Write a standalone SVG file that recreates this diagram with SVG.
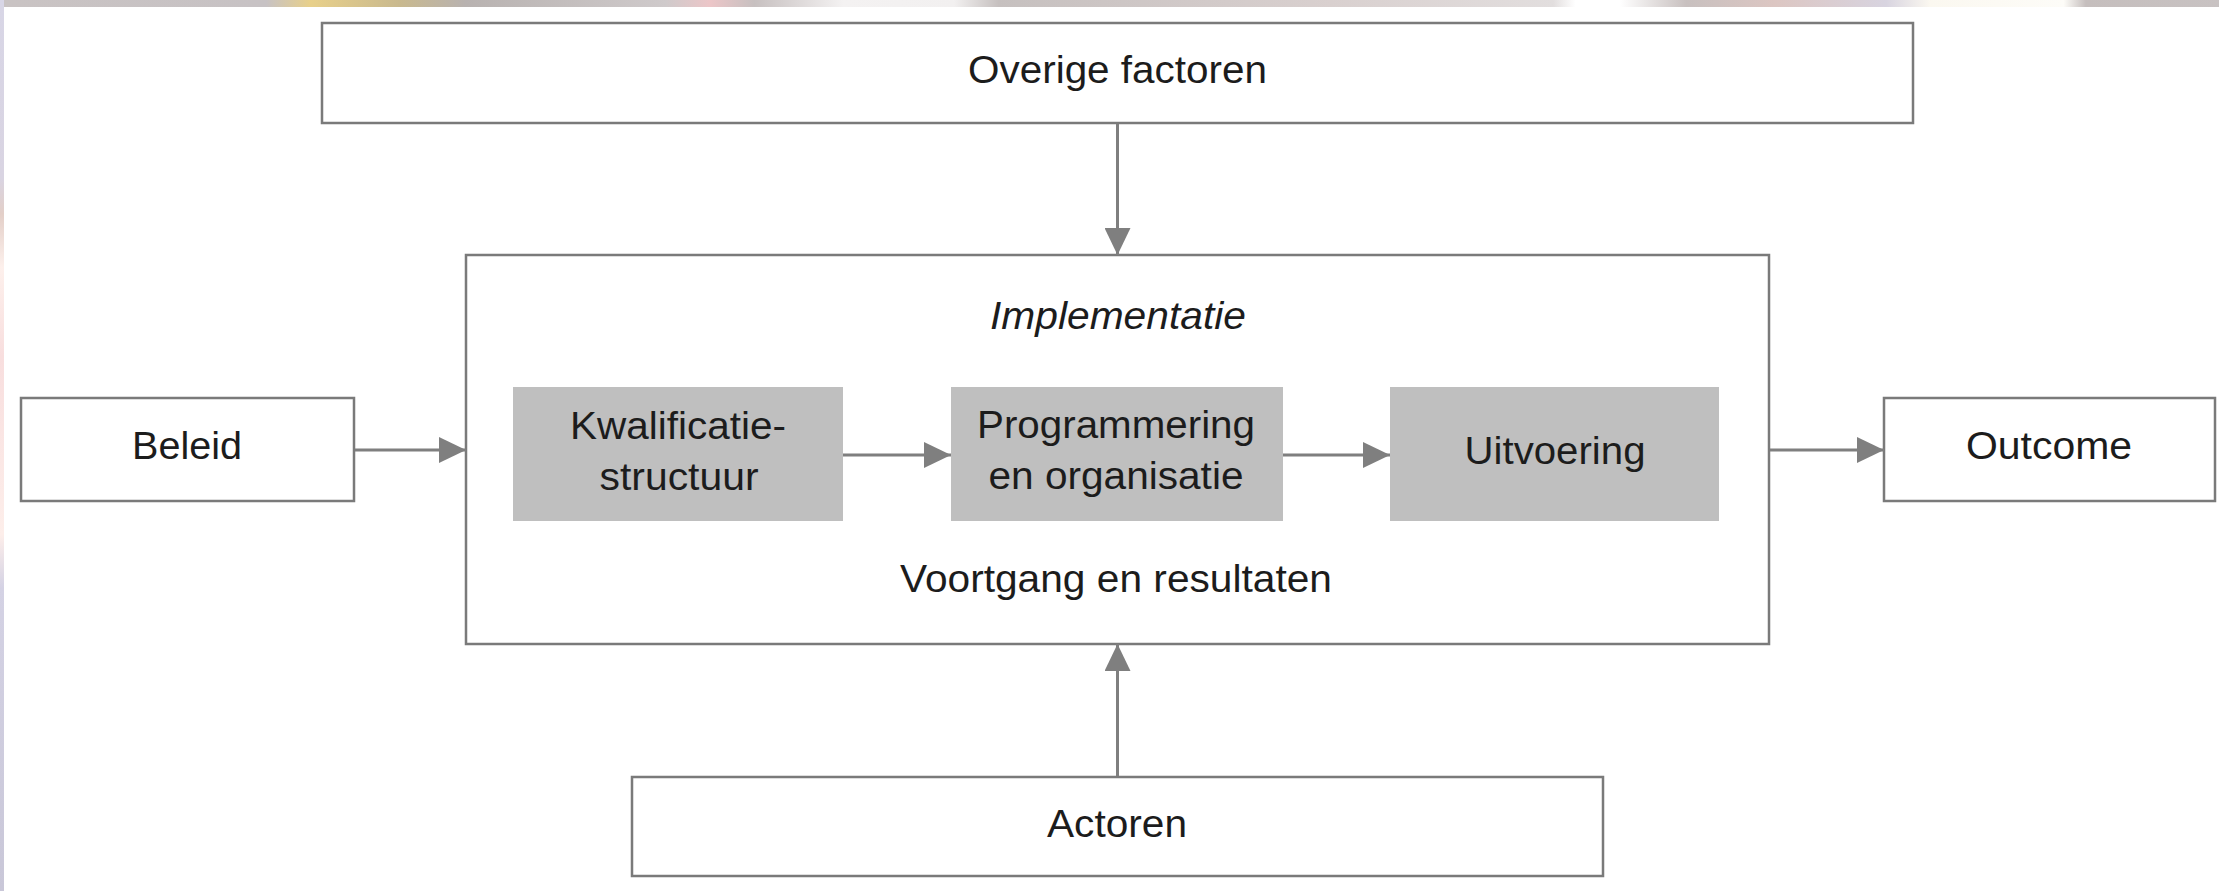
<svg xmlns="http://www.w3.org/2000/svg" width="2219" height="891" viewBox="0 0 2219 891">
  <defs>
    <linearGradient id="topStrip" x1="0" y1="0" x2="1" y2="0">
      <stop offset="0" stop-color="#c9c3c3"/>
      <stop offset="0.12" stop-color="#c7c2c4"/>
      <stop offset="0.14" stop-color="#e8d08a"/>
      <stop offset="0.18" stop-color="#c9b98e"/>
      <stop offset="0.21" stop-color="#b8b2b0"/>
      <stop offset="0.3" stop-color="#cfcacb"/>
      <stop offset="0.32" stop-color="#ecc6c8"/>
      <stop offset="0.34" stop-color="#c7c0c0"/>
      <stop offset="0.38" stop-color="#f4f2f2"/>
      <stop offset="0.43" stop-color="#f2f0f0"/>
      <stop offset="0.45" stop-color="#c6c0bf"/>
      <stop offset="0.6" stop-color="#d9d0cf"/>
      <stop offset="0.7" stop-color="#e2dede"/>
      <stop offset="0.71" stop-color="#ffffff"/>
      <stop offset="0.73" stop-color="#ffffff"/>
      <stop offset="0.76" stop-color="#c8c0bf"/>
      <stop offset="0.8" stop-color="#dcc6c2"/>
      <stop offset="0.85" stop-color="#d8d4e0"/>
      <stop offset="0.87" stop-color="#fbf8f0"/>
      <stop offset="0.93" stop-color="#fdfcf8"/>
      <stop offset="0.94" stop-color="#c5bebd"/>
      <stop offset="1" stop-color="#c8c2c2"/>
    </linearGradient>
    <linearGradient id="leftStrip" x1="0" y1="0" x2="0" y2="1">
      <stop offset="0" stop-color="#d8d6e6"/>
      <stop offset="0.2" stop-color="#d9d4e2"/>
      <stop offset="0.24" stop-color="#e3cfc8"/>
      <stop offset="0.3" stop-color="#fdf0ec"/>
      <stop offset="0.4" stop-color="#f8dede"/>
      <stop offset="0.6" stop-color="#fdeeea"/>
      <stop offset="0.66" stop-color="#d4d2e4"/>
      <stop offset="1" stop-color="#c9c7d8"/>
    </linearGradient>
    <marker id="arrow" markerUnits="userSpaceOnUse" markerWidth="28" markerHeight="26" refX="27" refY="13" orient="auto">
      <path d="M0,0 L27,13 L0,26 Z" fill="#7f7f7f"/>
    </marker>
  </defs>
  <style>
    .box { fill: #ffffff; stroke: #7a7a7a; stroke-width: 2.5; }
    .grey { fill: #bfbfbf; stroke: none; }
    .lbl { font-family: "Liberation Sans", Arial, sans-serif; font-size: 38px; fill: #1c1c1c; text-anchor: middle; }
    .it { font-style: italic; }
    .conn { stroke: #7f7f7f; stroke-width: 3; fill: none; marker-end: url(#arrow); }
  </style>

  <rect x="0" y="0" width="2219" height="891" fill="#ffffff"/>
  <rect x="0" y="0" width="2219" height="7" fill="url(#topStrip)"/>
  <rect x="0" y="0" width="4" height="891" fill="url(#leftStrip)"/>

  <g id="overige">
    <rect class="box" x="322" y="23" width="1591" height="100"/>
    <text class="lbl" x="1117.5" y="83" textLength="299" lengthAdjust="spacingAndGlyphs">Overige factoren</text>
  </g>

  <g id="implementatie">
    <rect class="box" x="466" y="255" width="1303" height="389"/>
    <text class="lbl it" x="1118" y="329" textLength="256" lengthAdjust="spacingAndGlyphs">Implementatie</text>
    <text class="lbl" x="1116" y="592" textLength="432" lengthAdjust="spacingAndGlyphs">Voortgang en resultaten</text>
  </g>

  <g id="kwalificatie">
    <rect class="grey" x="513" y="387" width="330" height="134"/>
    <text class="lbl" x="678" y="439" textLength="216" lengthAdjust="spacingAndGlyphs">Kwalificatie-</text>
    <text class="lbl" x="679" y="490" textLength="159" lengthAdjust="spacingAndGlyphs">structuur</text>
  </g>

  <g id="programmering">
    <rect class="grey" x="951" y="387" width="332" height="134"/>
    <text class="lbl" x="1116" y="438" textLength="278" lengthAdjust="spacingAndGlyphs">Programmering</text>
    <text class="lbl" x="1116" y="489" textLength="255" lengthAdjust="spacingAndGlyphs">en organisatie</text>
  </g>

  <g id="uitvoering">
    <rect class="grey" x="1390" y="387" width="329" height="134"/>
    <text class="lbl" x="1555" y="464" textLength="181" lengthAdjust="spacingAndGlyphs">Uitvoering</text>
  </g>

  <g id="beleid">
    <rect class="box" x="21" y="398" width="333" height="103"/>
    <text class="lbl" x="187" y="459" textLength="110" lengthAdjust="spacingAndGlyphs">Beleid</text>
  </g>

  <g id="outcome">
    <rect class="box" x="1884" y="398" width="331" height="103"/>
    <text class="lbl" x="2049" y="459" textLength="166" lengthAdjust="spacingAndGlyphs">Outcome</text>
  </g>

  <g id="actoren">
    <rect class="box" x="632" y="777" width="971" height="99"/>
    <text class="lbl" x="1117" y="837" textLength="140" lengthAdjust="spacingAndGlyphs">Actoren</text>
  </g>

  <g id="connectors">
    <line class="conn" x1="1117.5" y1="124" x2="1117.5" y2="255"/>
    <line class="conn" x1="1117.5" y1="776" x2="1117.5" y2="644"/>
    <line class="conn" x1="355" y1="450" x2="466" y2="450"/>
    <line class="conn" x1="1770" y1="450" x2="1884" y2="450"/>
    <line class="conn" x1="843" y1="455" x2="951" y2="455"/>
    <line class="conn" x1="1283" y1="455" x2="1390" y2="455"/>
  </g>
</svg>
